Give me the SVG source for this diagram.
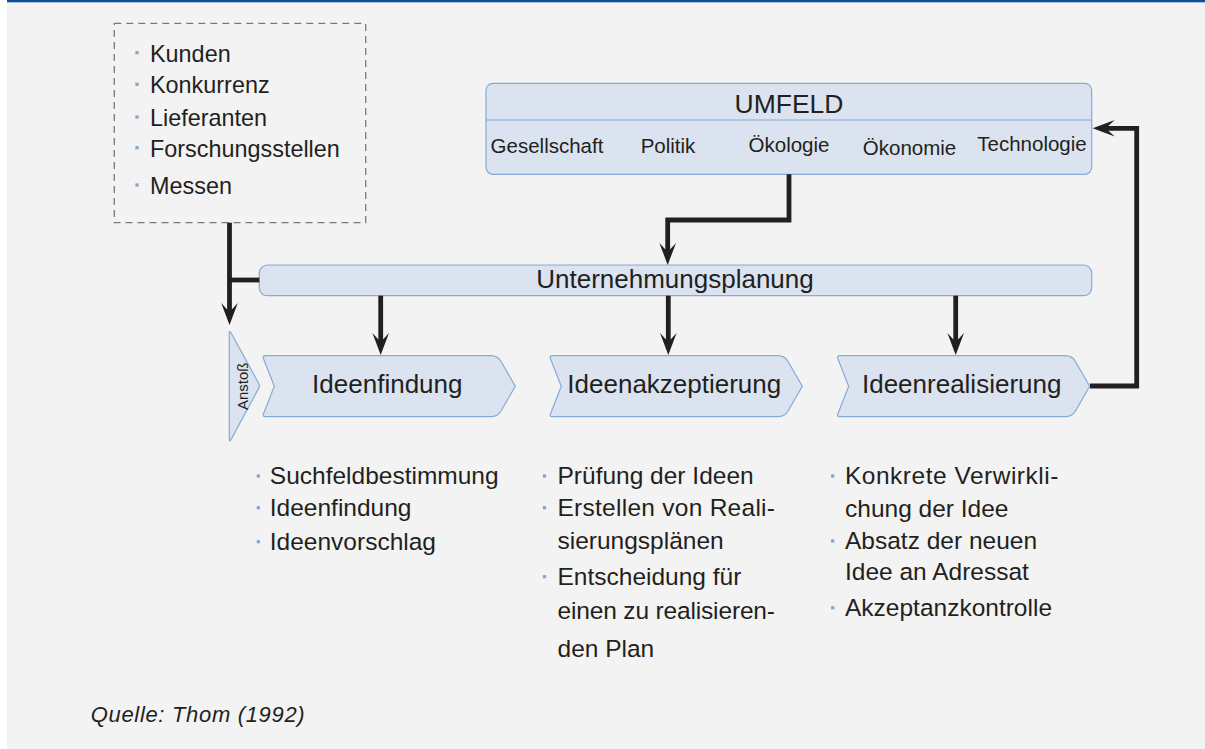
<svg xmlns="http://www.w3.org/2000/svg" xmlns:xlink="http://www.w3.org/1999/xlink" width="1205" height="749" viewBox="0 0 1205 749">
  <style>
    .txt { font-family: "Liberation Sans", Arial, sans-serif; fill: #231f20; }
    .node { fill: #dae3ef; stroke: #86abd6; stroke-width: 1.2; }
    .wire { fill: none; stroke: #231f20; stroke-width: 4.8; stroke-linejoin: miter; }
    .dot { fill: #7ea6d2; }
    .list { font-size: 24.5px; }
    .field { font-size: 20.5px; text-anchor: middle; }
    .step { font-size: 26px; text-anchor: middle; }
  </style>
  <defs>
    <marker id="head" markerUnits="userSpaceOnUse" viewBox="0 0 24 20" markerWidth="24" markerHeight="20" refX="9" refY="10" orient="auto" overflow="visible">
      <path d="M0,1.7 L22,10 L0,18.3 L9,10 Z" fill="#231f20"/>
    </marker>
    <path id="chevron" class="node" d="M3,0 H228.4 Q235.4,0 238.9,6 L253,30.5 L238.9,55 Q235.4,61 228.4,61 H3 Q0,61 1.2,58 L12,30.5 L1.2,3 Q0,0 3,0 Z"/>
    <rect id="bullet" x="-1.6" y="-1.6" width="3.2" height="3.2"/>
  </defs>

  <!-- page -->
  <rect x="0" y="0" width="1205" height="749" fill="#ffffff"/>
  <rect x="7" y="0" width="1198" height="749" fill="#f3f3f3"/>
  <rect x="7" y="0" width="1198" height="2.3" fill="#0b4f97"/>

  <!-- external sources -->
  <g id="sources">
    <rect x="114.3" y="23.3" width="251.4" height="199.4" fill="none" stroke="#7a7a7a" stroke-width="1.3" stroke-dasharray="7 5"/>
    <g class="dot">
      <use xlink:href="#bullet" x="137" y="52.7"/>
      <use xlink:href="#bullet" x="137" y="84.3"/>
      <use xlink:href="#bullet" x="137" y="117"/>
      <use xlink:href="#bullet" x="137" y="147.7"/>
      <use xlink:href="#bullet" x="137" y="185"/>
    </g>
    <g class="txt" font-size="23.4">
      <text x="150" y="61.7">Kunden</text>
      <text x="150" y="93.3">Konkurrenz</text>
      <text x="150" y="126">Lieferanten</text>
      <text x="150" y="156.7">Forschungsstellen</text>
      <text x="150" y="194">Messen</text>
    </g>
  </g>

  <!-- environment -->
  <g id="umfeld">
    <rect class="node" x="486" y="83.3" width="605.7" height="91" rx="7"/>
    <line x1="486" y1="120" x2="1091.7" y2="120" stroke="#86abd6" stroke-width="1.2"/>
    <text class="txt" x="789" y="113.3" font-size="26.5" text-anchor="middle">UMFELD</text>
    <text class="txt field" x="547" y="153.3">Gesellschaft</text>
    <text class="txt field" x="668" y="153">Politik</text>
    <text class="txt field" x="789" y="151.7">Ökologie</text>
    <text class="txt field" x="909.5" y="155">Ökonomie</text>
    <text class="txt field" x="1032" y="151">Technologie</text>
  </g>

  <!-- corporate planning -->
  <g id="planung">
    <rect class="node" x="259.3" y="265" width="832.4" height="30.7" rx="8"/>
    <text class="txt" x="675" y="288.3" font-size="26" text-anchor="middle">Unternehmungsplanung</text>
  </g>

  <!-- trigger -->
  <g id="anstoss">
    <path class="node" d="M229.3,333 Q229.3,330 231,332.8 L259,384 Q260,385.8 259,387.6 L231,439.6 Q229.3,442.4 229.3,439.4 Z"/>
    <text class="txt" transform="translate(248.3,386.3) rotate(-90)" font-size="15" text-anchor="middle">Anstoß</text>
  </g>

  <!-- process steps -->
  <g id="ideenfindung">
    <use xlink:href="#chevron" x="262.3" y="355.7"/>
    <text class="txt step" x="387.3" y="393.3">Ideenfindung</text>
  </g>
  <g id="ideenakzeptierung">
    <use xlink:href="#chevron" x="549.3" y="355.7"/>
    <text class="txt step" x="674.3" y="393.3">Ideenakzeptierung</text>
  </g>
  <g id="ideenrealisierung">
    <use xlink:href="#chevron" x="836.7" y="355.7"/>
    <text class="txt step" x="961.7" y="393.3">Ideenrealisierung</text>
  </g>

  <!-- step details -->
  <g id="details-findung">
    <g class="dot">
      <use xlink:href="#bullet" x="258.3" y="476"/>
      <use xlink:href="#bullet" x="258.3" y="507.7"/>
      <use xlink:href="#bullet" x="258.3" y="541.7"/>
    </g>
    <g class="txt list">
      <text x="269.8" y="484.3">Suchfeldbestimmung</text>
      <text x="269.8" y="516">Ideenfindung</text>
      <text x="269.8" y="550">Ideenvorschlag</text>
    </g>
  </g>
  <g id="details-akzeptierung">
    <g class="dot">
      <use xlink:href="#bullet" x="544.5" y="476"/>
      <use xlink:href="#bullet" x="544.5" y="507.7"/>
      <use xlink:href="#bullet" x="544.5" y="576.7"/>
    </g>
    <g class="txt list">
      <text x="557.5" y="484.3">Prüfung der Ideen</text>
      <text x="557.5" y="516" textLength="217.5" lengthAdjust="spacing">Erstellen von Reali-</text>
      <text x="557.5" y="549.3">sierungsplänen</text>
      <text x="557.5" y="585">Entscheidung für</text>
      <text x="557.5" y="619.3" textLength="217.5" lengthAdjust="spacing">einen zu realisieren-</text>
      <text x="557.5" y="656.7">den Plan</text>
    </g>
  </g>
  <g id="details-realisierung">
    <g class="dot">
      <use xlink:href="#bullet" x="832.7" y="476"/>
      <use xlink:href="#bullet" x="832.7" y="541"/>
      <use xlink:href="#bullet" x="832.7" y="607.7"/>
    </g>
    <g class="txt list">
      <text x="845" y="484.3" textLength="213.3" lengthAdjust="spacing">Konkrete Verwirkli-</text>
      <text x="845" y="516.7">chung der Idee</text>
      <text x="845" y="549.3">Absatz der neuen</text>
      <text x="845" y="580">Idee an Adressat</text>
      <text x="845" y="616">Akzeptanzkontrolle</text>
    </g>
  </g>

  <!-- connectors -->
  <g id="connectors" class="wire">
    <path d="M229.5,222.7 V312" marker-end="url(#head)"/>
    <path d="M229.5,280 H259.3"/>
    <path d="M789,174.3 V220 H667.7 V252" marker-end="url(#head)"/>
    <path d="M380.7,295.7 V342" marker-end="url(#head)"/>
    <path d="M668.3,295.7 V342" marker-end="url(#head)"/>
    <path d="M955.7,295.7 V342" marker-end="url(#head)"/>
    <path d="M1090,386 H1136.7 V128.3 H1105.7" marker-end="url(#head)"/>
  </g>

  <!-- source note -->
  <text class="txt" x="90.7" y="722" font-size="22" font-style="italic" textLength="214" lengthAdjust="spacing">Quelle: Thom (1992)</text>
</svg>
